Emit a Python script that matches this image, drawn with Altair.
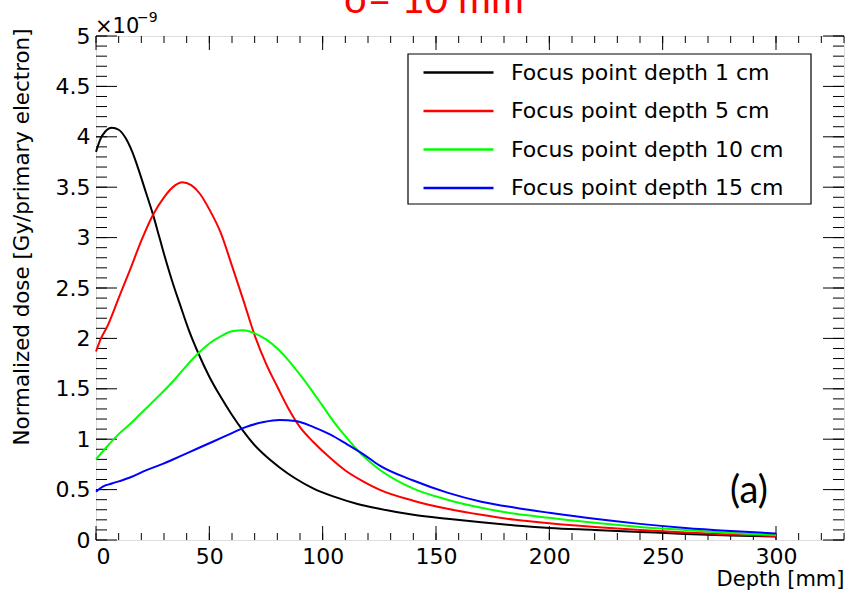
import altair as alt
import pandas as pd

# ---------------- data ----------------
series_names = [
    "Focus point depth 1 cm",
    "Focus point depth 5 cm",
    "Focus point depth 10 cm",
    "Focus point depth 15 cm",
]
series_colors = ["#000000", "#ff0000", "#00ff00", "#0000ff"]

black_x = [0, 2, 4, 7, 10, 13, 16, 19, 22, 25, 28, 31, 34, 37, 41, 45, 50, 55, 60, 65, 70, 75, 81, 88, 96, 105, 115, 125, 140, 155, 170, 185, 200, 220, 240, 260, 280, 300]
black_y = [3.85, 3.98, 4.05, 4.09, 4.07, 3.99, 3.85, 3.66, 3.45, 3.24, 3.00, 2.76, 2.54, 2.34, 2.08, 1.86, 1.62, 1.42, 1.24, 1.08, 0.94, 0.83, 0.72, 0.61, 0.51, 0.43, 0.36, 0.31, 0.25, 0.21, 0.175, 0.145, 0.12, 0.10, 0.08, 0.06, 0.045, 0.035]

red_x = [0, 2, 5, 10, 15, 20, 25, 30, 35, 38, 42, 46, 50, 55, 60, 65, 70, 75, 80, 85, 90, 96, 103, 110, 118, 125, 140, 155, 170, 185, 200, 220, 240, 260, 280, 300]
red_y = [1.87, 1.99, 2.12, 2.40, 2.68, 2.97, 3.22, 3.40, 3.52, 3.55, 3.52, 3.43, 3.28, 3.05, 2.72, 2.38, 2.03, 1.75, 1.52, 1.30, 1.12, 0.97, 0.82, 0.69, 0.58, 0.50, 0.39, 0.31, 0.25, 0.20, 0.165, 0.13, 0.10, 0.075, 0.055, 0.04]

green_x = [0, 5, 10, 15, 20, 25, 30, 35, 40, 45, 50, 55, 60, 65, 70, 75, 80, 85, 90, 95, 100, 105, 110, 115, 120, 125, 132, 140, 155, 170, 185, 200, 220, 240, 260, 280, 300]
green_y = [0.80, 0.93, 1.05, 1.15, 1.26, 1.37, 1.48, 1.60, 1.73, 1.85, 1.95, 2.02, 2.07, 2.08, 2.05, 1.99, 1.90, 1.78, 1.64, 1.49, 1.33, 1.17, 1.03, 0.90, 0.79, 0.70, 0.60, 0.51, 0.40, 0.32, 0.26, 0.22, 0.17, 0.13, 0.10, 0.07, 0.05]

blue_x = [0, 3, 7, 15, 22, 30, 37, 45, 52, 59, 66, 74, 81, 88, 96, 103, 110, 118, 125, 140, 155, 170, 185, 200, 220, 240, 260, 280, 300]
blue_y = [0.48, 0.53, 0.56, 0.62, 0.69, 0.76, 0.83, 0.91, 0.98, 1.05, 1.12, 1.17, 1.19, 1.18, 1.12, 1.05, 0.96, 0.85, 0.74, 0.59, 0.47, 0.38, 0.32, 0.27, 0.21, 0.16, 0.12, 0.09, 0.065]

x_label_values = [0, 50, 100, 150, 200, 250, 300]
y_label_values = [0, 0.5, 1, 1.5, 2, 2.5, 3, 3.5, 4, 4.5, 5]
x_tick_minor = list(range(0, 331, 10))
x_tick_major = list(range(0, 301, 50))
y_tick_minor = [round(i * 0.1, 1) for i in range(51)]
y_tick_major = [round(i * 0.5, 1) for i in range(11)]

title_text = ["σ= 10 mm"]
panel_text = ["(a)"]
exp_base = ["×10"]
exp_power = ["−9"]

# ---------------- build ----------------
W, H = 748, 504
FONT = "DejaVu Sans"

rows = []
for name, xs, ys in zip(series_names,
                        [black_x, red_x, green_x, blue_x],
                        [black_y, red_y, green_y, blue_y]):
    for xv, yv in zip(xs, ys):
        rows.append({"depth": xv, "dose": yv, "series": name})
df = pd.DataFrame(rows)

xscale = alt.Scale(domain=[0, 330], nice=False, zero=False)
yscale = alt.Scale(domain=[0, 5], nice=False)

x_axis = alt.Axis(values=x_label_values, ticks=False, domain=False, grid=False,
                  labelFont=FONT, labelFontSize=22, labelColor="black",
                  labelPadding=6, labelExpr="'' + datum.value",
                  title="Depth [mm]", titleFont=FONT, titleFontSize=21,
                  titleFontWeight="normal", titleColor="black",
                  titleAlign="right", titleAnchor="end", titleX=W, titleY=45,
                  titleBaseline="alphabetic")
y_axis = alt.Axis(values=y_label_values, ticks=False, domain=False, grid=False,
                  labelFont=FONT, labelFontSize=22, labelColor="black",
                  labelPadding=6, labelExpr="'' + datum.value",
                  title="Normalized dose [Gy/primary electron]", titleFont=FONT,
                  titleFontSize=21.4, titleFontWeight="normal", titleColor="black",
                  titleAlign="right", titleAnchor="end", titleAngle=270,
                  titleX=-74, titleY=-8, titleBaseline="middle")

lines = alt.Chart(df).mark_line(strokeWidth=2, interpolate="monotone").encode(
    x=alt.X("depth:Q", scale=xscale, axis=x_axis),
    y=alt.Y("dose:Q", scale=yscale, axis=y_axis),
    color=alt.Color("series:N", sort=series_names,
                    scale=alt.Scale(domain=series_names, range=series_colors),
                    legend=alt.Legend(orient="none", legendX=351, legendY=25, title=None,
                                      symbolType="M-3.5,0H3.5", symbolSize=400,
                                      symbolStrokeWidth=2.5, labelFont=FONT,
                                      labelFontSize=22, labelColor="black",
                                      labelOffset=41, labelLimit=500, rowPadding=15.5,
                                      padding=0, fillColor=None, strokeColor=None)),
)

legend_box = alt.Chart(pd.DataFrame({"k": [0]})).mark_rect(
    fill="white", stroke="black", strokeWidth=1.2).encode(
    x=alt.value(312), x2=alt.value(715), y=alt.value(18), y2=alt.value(168))


def tick_layer(values, channel, start, end):
    d = pd.DataFrame({"v": values})
    if channel == "x":
        return alt.Chart(d).mark_rule(color="black", strokeWidth=1).encode(
            x=alt.X("v:Q", scale=xscale, axis=x_axis),
            y=alt.value(start), y2=alt.value(end))
    return alt.Chart(d).mark_rule(color="black", strokeWidth=1).encode(
        y=alt.Y("v:Q", scale=yscale, axis=y_axis),
        x=alt.value(start), x2=alt.value(end))


ticks = [
    tick_layer(x_tick_minor, "x", H, H - 7),
    tick_layer(x_tick_major, "x", H, H - 14),
    tick_layer(x_tick_minor, "x", 0, 7),
    tick_layer(x_tick_major, "x", 0, 14),
    tick_layer(y_tick_minor, "y", 0, 11),
    tick_layer(y_tick_major, "y", 0, 21),
    tick_layer(y_tick_minor, "y", W, W - 11),
    tick_layer(y_tick_major, "y", W, W - 21),
]

title = alt.Chart(pd.DataFrame({"t": title_text})).mark_text(
    font="Lato", fontSize=40, color="#ff0000", align="center", baseline="alphabetic").encode(
    text="t:N", x=alt.value(338), y=alt.value(-23))

panel = alt.Chart(pd.DataFrame({"t": panel_text})).mark_text(
    font="Lato", fontSize=38, color="black", align="left", baseline="alphabetic").encode(
    text="t:N", x=alt.value(634), y=alt.value(467))

exp1 = alt.Chart(pd.DataFrame({"t": exp_base})).mark_text(
    font=FONT, fontSize=21, color="black", align="left", baseline="alphabetic").encode(
    text="t:N", x=alt.value(-1), y=alt.value(-3))

exp2 = alt.Chart(pd.DataFrame({"t": exp_power})).mark_text(
    font=FONT, fontSize=14, color="black", align="left", baseline="alphabetic").encode(
    text="t:N", x=alt.value(41), y=alt.value(-14))

chart = alt.layer(legend_box, *ticks, lines, title, panel, exp1, exp2).properties(
    width=W, height=H,
    autosize=alt.AutoSizeParams(type="none"),
    padding={"left": 96, "top": 36, "right": 3, "bottom": 55},
).configure_view(stroke="black", strokeWidth=1.2).configure(background="white")

chart.save("out.html", embed_options={"renderer": "svg", "actions": False})
